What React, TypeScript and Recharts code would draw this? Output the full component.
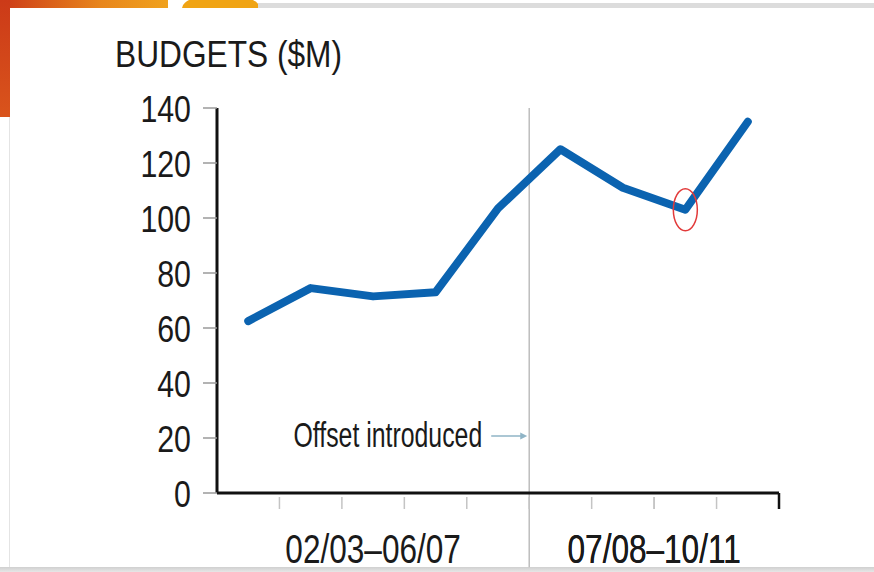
import { LineChart, Line, XAxis, YAxis, ReferenceLine, ReferenceDot } from "recharts";

const seasons = ["02/03", "03/04", "04/05", "05/06", "06/07", "07/08", "08/09", "09/10", "10/11"];
const budgets = [62.5, 74.5, 71.5, 73, 103.5, 125, 111, 103, 135];
const yTicks = [0, 20, 40, 60, 80, 100, 120, 140];
const offsetSeason = "07/08";
const highlightSeason = "09/10";
const annotationText = "Offset introduced";
const annotationLevel = 20;

// no condensed font installed, so squeeze Liberation Sans horizontally
const sans = "'Liberation Sans', Arial, sans-serif";

const data = seasons.map((season, i) => ({ x: i + 0.5, season, budget: budgets[i] }));

const offsetIdx = seasons.indexOf(offsetSeason);
const periods = [
  { label: `${seasons[0]}–${seasons[offsetIdx - 1]}`, center: offsetIdx / 2 },
  { label: `${seasons[offsetIdx]}–${seasons[seasons.length - 1]}`, center: (offsetIdx + seasons.length) / 2 },
];
const boundaries = seasons.map((_, i) => i + 1);
const xTicks = [...boundaries, ...periods.map((p) => p.center)].sort((a, b) => a - b);

const highlight = data[seasons.indexOf(highlightSeason)];

const Squeezed = ({ x, y, sx, size, anchor, children }: any) => (
  <text
    transform={`translate(${x} ${y}) scale(${sx} 1)`}
    textAnchor={anchor}
    fontFamily={sans}
    fontSize={size}
    fill="#1a1a1a"
  >
    {children}
  </text>
);

const XTick = (props: any) => {
  const { x, y, payload } = props;
  const v = payload.value;
  const period = periods.find((p) => p.center === v);
  const isLast = v === seasons.length;
  return (
    <g>
      {boundaries.includes(v) && (
        <line
          x1={x}
          x2={x}
          y1={isLast ? y : y + 4}
          y2={y + 16}
          stroke={isLast ? "#111" : "#c4c4c4"}
          strokeWidth={isLast ? 2.5 : 1.5}
        />
      )}
      {period && (
        <Squeezed x={x} y={y + 70} sx={0.77} size={41} anchor="middle">
          {period.label}
        </Squeezed>
      )}
    </g>
  );
};

const YTick = (props: any) => {
  const { x, y, payload } = props;
  return (
    <Squeezed x={x} y={y + 14} sx={0.82} size={37} anchor="end">
      {payload.value}
    </Squeezed>
  );
};

const Annotation = (props: any) => {
  const { cx, cy } = props;
  return (
    <g>
      <Squeezed x={cx - 47} y={cy + 9} sx={0.71} size={35} anchor="end">
        {annotationText}
      </Squeezed>
      <line x1={cx - 38} x2={cx - 6} y1={cy - 2} y2={cy - 2} stroke="#8fb4c6" strokeWidth={1.5} />
      <path d={`M${cx - 2},${cy - 2} L${cx - 9},${cy - 5.5} L${cx - 9},${cy + 1.5} Z`} fill="#8fb4c6" />
    </g>
  );
};

const Ring = (props: any) => (
  <ellipse cx={props.cx} cy={props.cy} rx={12} ry={21} fill="none" stroke="#e23a3a" strokeWidth={1.5} />
);

export default function App() {
  return (
    <div style={{ position: "absolute", left: 0, top: 0, width: 874, height: 572, background: "#fff", overflow: "hidden" }}>
      {/* frame decorations */}
      <div style={{ position: "absolute", left: 0, top: 0, width: 168, height: 8, background: "linear-gradient(90deg, #cc3a18, #e8861c 60%, #f0a21e)" }} />
      <div style={{ position: "absolute", left: 0, top: 0, width: 10, height: 117, background: "linear-gradient(180deg, #cc3a18, #d9541c)" }} />
      <div style={{ position: "absolute", left: 182, top: -6, width: 78, height: 14, background: "#f0a414", borderRadius: "50% 50% 0 0 / 100% 100% 0 0" }} />
      <div style={{ position: "absolute", left: 258, top: 3, right: 0, height: 5, background: "#dcdcdc" }} />
      <div style={{ position: "absolute", left: 9, top: 117, width: 1, height: 450, background: "#e4e4e4" }} />
      <div style={{ position: "absolute", left: 0, top: 567, width: 874, height: 5, background: "linear-gradient(180deg, #d0d0d0, #e6e6e6)" }} />

      <div
        style={{
          position: "absolute",
          left: 115,
          top: 37,
          fontFamily: sans,
          fontSize: 36,
          lineHeight: 1,
          color: "#1a1a1a",
          whiteSpace: "nowrap",
          transform: "scaleX(0.88)",
          transformOrigin: "left top",
        }}
      >
        BUDGETS ($M)
      </div>

      <div style={{ position: "absolute", left: 0, top: 0 }}>
        <LineChart width={874} height={572} data={data} margin={{ top: 108, right: 95, bottom: 0, left: 0 }}>
          <XAxis
            type="number"
            dataKey="x"
            domain={[0, seasons.length]}
            ticks={xTicks}
            interval={0}
            tick={<XTick />}
            tickLine={false}
            tickSize={0}
            tickMargin={0}
            height={79}
            axisLine={{ stroke: "#111", strokeWidth: 3 }}
          />
          <YAxis
            type="number"
            domain={[0, 140]}
            ticks={yTicks}
            interval={0}
            width={217}
            tickSize={14}
            tickMargin={12}
            tickLine={{ stroke: "#9a9a9a", strokeWidth: 1.5 }}
            axisLine={{ stroke: "#111", strokeWidth: 3 }}
            tick={<YTick />}
          />
          <ReferenceLine
            segment={[
              { x: offsetIdx, y: 140 },
              { x: offsetIdx, y: -27 },
            ]}
            stroke="#bdbdbd"
            strokeWidth={1.5}
            ifOverflow="visible"
          />
          <ReferenceDot x={offsetIdx} y={annotationLevel} r={0} ifOverflow="visible" shape={<Annotation />} />
          <Line
            type="linear"
            dataKey="budget"
            stroke="#0b63b0"
            strokeWidth={8}
            strokeLinejoin="round"
            strokeLinecap="round"
            dot={false}
            activeDot={false}
            isAnimationActive={false}
          />
          <ReferenceDot x={highlight.x} y={highlight.budget} r={1} ifOverflow="visible" shape={<Ring />} />
        </LineChart>
      </div>
    </div>
  );
}
